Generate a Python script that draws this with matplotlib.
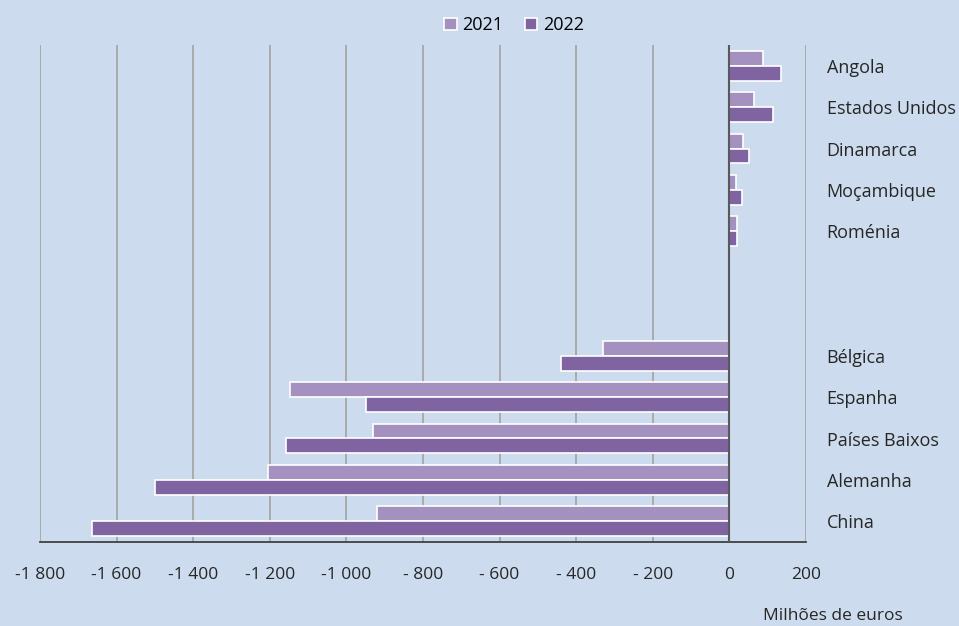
"Balança comercial por país, 2021 vs 2022 (barras horizontais)."

import numpy as np
import matplotlib.pyplot as plt

plt.rcParams["font.family"] = ["Open Sans", "DejaVu Sans"]

# categories (None = empty slot between the two groups)
countries = ["Angola", "Estados Unidos", "Dinamarca", "Moçambique", "Roménia",
             None, None,
             "Bélgica", "Espanha", "Países Baixos", "Alemanha", "China"]
values_2021 = [88, 65, 36, 17, 20, None, None, -330, -1148, -930, -1206, -919]
values_2022 = [136, 115, 52, 32, 20, None, None, -439, -950, -1157, -1501, -1665]

x_ticks = [-1800, -1600, -1400, -1200, -1000, -800, -600, -400, -200, 0, 200]
x_tick_labels = ["-1 800", "-1 600", "-1 400", "-1 200", "-1 000", "- 800",
                 "- 600", "- 400", "- 200", "0", "200"]

BG = "#CCDCEE"
C21 = "#A491BF"
C22 = "#8064A2"
TXT = "#262626"

fig = plt.figure(figsize=(9.59, 6.26), dpi=100, facecolor=BG)
ax = fig.add_axes([40 / 959, 84 / 626, 766 / 959, 497 / 626])
ax.set_facecolor(BG)

pos = np.arange(len(countries))
h = 0.36
idx = [i for i, c in enumerate(countries) if c is not None]
v21 = [values_2021[i] for i in idx]
v22 = [values_2022[i] for i in idx]
p = pos[idx]

ax.barh(p - h / 2, v21, height=h, color=C21, edgecolor="white", linewidth=1.2,
        label="2021", zorder=3)
ax.barh(p + h / 2, v22, height=h, color=C22, edgecolor="white", linewidth=1.2,
        label="2022", zorder=3)

ax.set_xlim(-1800, 200)
ax.set_ylim(len(countries) - 0.5, -0.5)

ax.set_xticks(x_ticks)
ax.set_xticklabels(x_tick_labels, fontsize=12.5, color=TXT)
ax.tick_params(axis="x", length=0, pad=18)
ax.set_yticks([])

ax.grid(axis="x", color="#A6A6A6", linewidth=1.3, zorder=0)
ax.axvline(0, color="#595959", linewidth=1.5, zorder=4)

for s in ["top", "left", "right"]:
    ax.spines[s].set_visible(False)
ax.spines["bottom"].set_color("#404040")
ax.spines["bottom"].set_linewidth(1.3)

for i in idx:
    ax.text(1.027, 1 - (pos[i] + 0.55) / len(countries), countries[i],
            transform=ax.transAxes, ha="left", va="center", fontsize=13,
            color=TXT)

fig.legend(loc="upper center", bbox_to_anchor=(514 / 959, 1.0), ncol=2,
           frameon=False, fontsize=13, handlelength=0.7, handleheight=0.7,
           handletextpad=0.3, columnspacing=1.2)

fig.text(903 / 959, 2 / 626, "Milhões de euros", ha="right", va="bottom",
         fontsize=12.5, color=TXT)

fig.savefig("out.png", dpi=100, facecolor=BG)
